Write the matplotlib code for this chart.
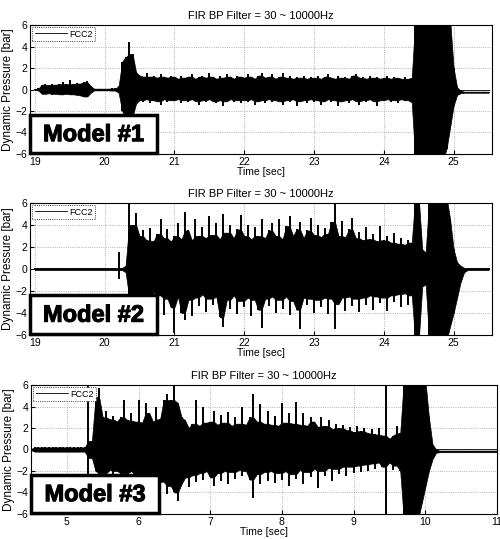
import numpy as np
import matplotlib
matplotlib.use("Agg")
import matplotlib.pyplot as plt
import matplotlib.patheffects as pe
from matplotlib.patches import Rectangle

plt.rcParams["font.family"] = ["Liberation Sans", "DejaVu Sans"]

TITLE = "FIR BP Filter = 30 ~ 10000Hz"
SERIES = "FCC2"
MODELS = ["Model #1", "Model #2", "Model #3"]
Y_TICKS = [-6, -4, -2, 0, 2, 4, 6]

# envelope of the signal, one value every 0.05 s (rows of 0.5 s)
t1_start, t1_end = 19.0, 25.5
hi1 = [
    0.05, 0.1, 0.45, 0.5, 0.4, 0.55, 0.45, 0.5, 0.7, 0.5,
    0.9, 0.5, 0.6, 0.55, 0.7, 0.75, 0.3, 0.08, 0.08, 0.08,
    0.08, 0.08, 0.1, 0.1, 0.3, 2.6, 3.0, 4.4, 3.3, 1.6,
    1.3, 1.2, 1.5, 1.2, 1.3, 1.1, 1.4, 1.2, 1.1, 1.3,
    1.2, 1.0, 1.3, 1.1, 1.2, 1.4, 1.0, 1.2, 1.3, 1.1,
    1.5, 1.2, 1.0, 1.3, 1.1, 1.4, 1.2, 1.0, 1.3, 1.2,
    1.1, 1.4, 1.2, 1.0, 1.3, 1.5, 1.1, 1.2, 1.4, 1.0,
    1.2, 1.5, 1.1, 1.3, 1.0, 1.2, 1.1, 1.3, 1.0, 1.2,
    1.1, 1.3, 1.0, 1.2, 1.4, 1.1, 1.0, 1.3, 1.1, 1.2,
    1.0, 1.3, 1.4, 1.1, 1.2, 1.0, 1.3, 1.1, 1.2, 1.0,
    1.1, 1.3, 1.0, 1.2, 1.1, 1.0, 1.2, 1.0, 1.1, 6.5,
    6.5, 6.5, 6.5, 6.5, 6.5, 6.5, 6.5, 6.5, 6.5, 6.5,
    2.0, 0.2, -0.1, -0.2, -0.2, -0.2, -0.2, -0.2, -0.2, -0.2,
    -0.2,
]
lo1 = [
    -0.05, -0.1, -0.4, -0.45, -0.35, -0.5, -0.4, -0.45, -0.5, -0.4,
    -0.55, -0.45, -0.5, -0.55, -0.65, -0.7, -0.3, -0.08, -0.08, -0.08,
    -0.08, -0.08, -0.1, -0.1, -0.3, -2.0, -2.6, -3.5, -2.5, -1.3,
    -1.0, -1.2, -0.9, -1.3, -1.0, -1.1, -1.4, -0.9, -1.2, -1.0,
    -1.1, -0.9, -1.3, -1.0, -1.2, -0.9, -1.1, -1.4, -1.0, -1.2,
    -0.9, -1.1, -1.3, -1.0, -1.5, -1.1, -0.9, -1.2, -1.0, -1.3,
    -1.0, -1.2, -0.9, -1.4, -1.1, -1.0, -1.3, -0.9, -1.2, -1.0,
    -1.1, -1.4, -1.0, -1.2, -0.9, -1.5, -1.1, -1.0, -1.3, -0.9,
    -1.2, -1.0, -1.4, -1.1, -0.9, -1.2, -1.0, -1.5, -1.1, -1.0,
    -1.3, -0.9, -1.1, -1.4, -1.0, -1.2, -0.9, -1.1, -1.5, -1.0,
    -1.1, -0.9, -1.2, -1.0, -1.3, -0.9, -1.1, -1.0, -1.2, -6.5,
    -6.5, -6.5, -6.5, -6.5, -6.5, -6.5, -6.5, -6.5, -5.5, -3.5,
    -1.5, -0.5, -0.35, -0.3, -0.3, -0.3, -0.3, -0.3, -0.3, -0.3,
    -0.3,
]

t2_start, t2_end = 19.0, 25.5
hi2 = [
    0.1, 0.1, 0.1, 0.1, 0.1, 0.1, 0.1, 0.1, 0.1, 0.1,
    0.1, 0.1, 0.1, 0.1, 0.1, 0.1, 0.1, 0.1, 0.1, 0.1,
    0.1, 0.1, 0.1, 0.1, 1.5, 0.1, 0.3, 6.5, 4.0, 5.1,
    3.0, 3.5, 2.6, 3.7, 2.5, 3.2, 4.5, 2.8, 3.6, 2.5,
    3.0, 4.2, 2.7, 5.2, 3.5, 2.6, 4.5, 3.0, 3.8, 2.8,
    4.8, 3.1, 4.2, 2.7, 5.0, 3.3, 4.0, 2.8, 3.6, 4.9,
    3.0, 4.0, 2.7, 3.8, 3.0, 4.5, 2.8, 3.5, 4.2, 3.0,
    4.5, 2.7, 3.9, 4.8, 3.0, 3.6, 4.3, 2.8, 3.5, 4.6,
    3.1, 4.0, 2.9, 3.7, 3.2, 4.3, 6.0, 3.0, 4.4, 2.9,
    3.6, 4.6, 2.8, 3.4, 2.6, 3.8, 2.7, 3.2, 2.5, 3.9,
    2.6, 3.0, 2.4, 3.3, 2.3, 2.8, 2.2, 2.6, 2.4, 6.5,
    6.5, 1.8, 1.5, 6.5, 6.5, 6.5, 6.5, 6.5, 6.5, 4.5,
    1.8, 0.6, 0.3, 0.1, 0.1, 0.1, 0.1, 0.1, 0.1, 0.1,
    0.1,
]
lo2 = [
    -0.1, -0.1, -0.1, -0.1, -0.1, -0.1, -0.1, -0.1, -0.1, -0.1,
    -0.1, -0.1, -0.1, -0.1, -0.1, -0.1, -0.1, -0.1, -0.1, -0.1,
    -0.1, -0.1, -0.1, -0.1, -0.9, -0.1, -0.3, -3.0, -2.5, -3.2,
    -2.2, -3.8, -2.6, -3.2, -2.1, -3.6, -2.4, -4.2, -2.7, -3.5,
    -5.8, -2.5, -4.0, -4.6, -2.8, -4.3, -2.6, -3.4, -2.3, -3.9,
    -2.7, -3.3, -2.5, -4.4, -5.3, -2.8, -3.6, -2.4, -4.1, -2.9,
    -3.5, -2.6, -4.3, -2.8, -3.7, -5.4, -2.7, -3.4, -2.5, -4.0,
    -2.8, -3.6, -2.5, -4.2, -2.9, -3.7, -5.5, -2.6, -3.3, -2.7,
    -4.0, -2.8, -3.5, -2.6, -4.1, -2.7, -5.5, -3.2, -2.6, -3.8,
    -2.5, -3.4, -2.7, -3.9, -2.6, -3.3, -2.4, -3.7, -2.5, -3.1,
    -2.6, -3.8, -2.4, -3.0, -2.3, -3.5, -2.2, -3.3, -2.4, -6.5,
    -6.5, -1.6, -1.4, -6.5, -6.5, -6.5, -6.5, -6.5, -6.5, -5.2,
    -4.0, -2.6, -1.2, -0.3, -0.1, -0.1, -0.1, -0.1, -0.1, -0.1,
    -0.1,
]

t3_start, t3_end = 4.5, 11.0
hi3 = [
    0.05, 0.2, 0.2, 0.2, 0.2, 0.2, 0.2, 0.2, 0.2, 0.2,
    0.2, 0.2, 0.2, 0.2, 0.2, 0.2, 6.5, 0.8, 4.9, 5.7,
    3.0, 3.6, 2.8, 3.1, 2.6, 3.0, 4.6, 2.7, 3.4, 2.6,
    4.6, 2.5, 4.3, 3.4, 2.6, 4.0, 2.8, 4.6, 5.2, 4.6,
    6.3, 4.3, 3.0, 2.7, 2.0, 2.4, 4.6, 2.2, 4.0, 2.5,
    2.6, 3.6, 2.3, 3.2, 2.5, 3.5, 2.2, 3.0, 2.4, 4.0,
    2.3, 3.0, 5.2, 2.6, 4.2, 2.4, 3.6, 2.3, 3.1, 2.2,
    4.3, 2.5, 3.4, 2.4, 4.4, 2.3, 3.4, 2.2, 3.0, 2.6,
    2.1, 3.0, 2.2, 2.7, 1.9, 2.4, 2.0, 2.3, 1.8, 2.1,
    1.6, 2.2, 1.7, 2.0, 1.5, 1.9, 1.4, 2.0, 1.3, 6.5,
    1.0, 1.3, 2.2, 1.5, 6.5, 6.5, 6.5, 6.5, 6.5, 6.5,
    6.5, 3.0, 0.5, 0.0, -0.1, -0.1, -0.1, -0.1, -0.1, -0.1,
    -0.1, -0.1, -0.1, -0.1, -0.1, -0.1, -0.1, -0.1, -0.1, -0.1,
    -0.1,
]
lo3 = [
    -0.05, -0.2, -0.2, -0.2, -0.2, -0.2, -0.2, -0.2, -0.2, -0.2,
    -0.2, -0.2, -0.2, -0.2, -0.2, -0.2, -2.5, -0.8, -2.0, -3.0,
    -2.2, -3.3, -1.9, -2.8, -2.0, -3.5, -2.2, -2.9, -2.0, -3.2,
    -2.4, -3.4, -2.5, -3.0, -3.6, -2.8, -3.8, -3.0, -4.1, -3.4,
    -4.0, -4.8, -3.2, -2.6, -3.5, -2.4, -3.0, -2.2, -2.8, -2.0,
    -2.6, -3.4, -2.2, -2.9, -2.0, -3.2, -2.1, -2.7, -1.9, -2.5,
    -2.0, -2.8, -4.5, -2.3, -3.2, -2.1, -2.9, -2.0, -3.1, -2.2,
    -2.8, -2.0, -3.4, -2.3, -2.7, -1.9, -3.2, -2.1, -2.6, -1.8,
    -3.6, -2.0, -2.5, -1.7, -2.9, -1.8, -2.3, -1.6, -2.5, -1.6,
    -2.2, -1.5, -2.1, -1.4, -2.0, -1.3, -1.8, -1.2, -1.6, -6.5,
    -1.2, -1.9, -1.5, -2.0, -6.5, -6.5, -6.5, -6.5, -6.5, -5.0,
    -3.5, -2.0, -0.9, -0.3, -0.25, -0.25, -0.25, -0.25, -0.25, -0.25,
    -0.25, -0.25, -0.25, -0.25, -0.25, -0.25, -0.25, -0.25, -0.25, -0.25,
    -0.25,
]

panels = [
    (t1_start, t1_end, hi1, lo1, (18.93, 25.55), range(19, 26), [0.060, 0.7143, 0.924, 0.2393]),
    (t2_start, t2_end, hi2, lo2, (18.93, 25.55), range(19, 26), [0.060, 0.3785, 0.924, 0.2449]),
    (t3_start, t3_end, hi3, lo3, (4.5, 11.0), range(5, 12), [0.062, 0.0464, 0.932, 0.2393]),
]


def core(vals, pick_inner, pick_outer):
    # dense part of the trace: a sample only counts in full if a neighbour reaches as far
    p = np.pad(np.asarray(vals, dtype=float), 1, mode="edge")
    return pick_inner(p[1:-1], pick_outer(p[:-2], p[2:]))


fig = plt.figure(figsize=(5.0, 5.39), dpi=100)

for (t0, t1, hi, lo, xlim, xticks, rect), model in zip(panels, MODELS):
    ax = fig.add_axes(rect)
    t = np.linspace(t0, t1, len(hi))
    core_hi = core(hi, np.minimum, np.maximum)
    core_lo = core(lo, np.maximum, np.minimum)
    ax.fill_between(t, core_lo, core_hi, color="black", lw=0.5, zorder=2)
    ax.vlines(t, lo, hi, color="black", lw=1.4, zorder=2)
    ax.plot(t, np.zeros_like(t), color="black", lw=0.6, label=SERIES, zorder=2)

    ax.set_xlim(*xlim)
    ax.set_ylim(-6, 6)
    ax.set_xticks(list(xticks))
    ax.set_yticks(Y_TICKS)
    ax.grid(True, linestyle=":", color="#999999", lw=0.6)
    ax.tick_params(direction="in", labelsize=7.5, length=3, pad=2)
    for s in ax.spines.values():
        s.set_linewidth(0.8)

    ax.set_title(TITLE, fontsize=8, pad=4)
    ax.set_xlabel("Time [sec]", fontsize=7.5, labelpad=0)
    ax.set_ylabel("Dynamic Pressure [bar]", fontsize=8.5, labelpad=1)

    leg = ax.legend(loc="upper left", fontsize=6.5, handlelength=3.6,
                    handletextpad=0.3, borderpad=0.25, borderaxespad=0.25,
                    fancybox=False, framealpha=1, edgecolor="black")
    leg.get_frame().set_linestyle(":")
    leg.get_frame().set_linewidth(0.6)

    ax.add_patch(Rectangle((0.0, 0.005), 0.275, 0.30, transform=ax.transAxes,
                           facecolor="white", edgecolor="black", lw=2.5,
                           zorder=5, clip_on=False))
    ax.text(0.1375, 0.15, model, transform=ax.transAxes, ha="center",
            va="center", fontsize=17, fontweight="bold", zorder=6,
            path_effects=[pe.withStroke(linewidth=0.8, foreground="black")])

fig.savefig("out.png", dpi=100)
